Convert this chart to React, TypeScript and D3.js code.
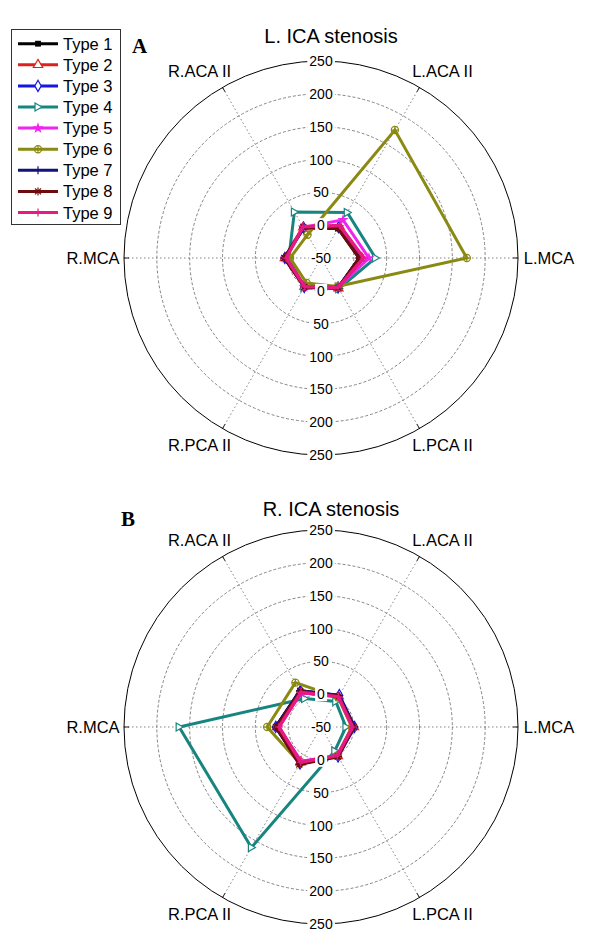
import React, { useEffect, useRef } from 'react';
import * as d3 from 'd3';

// axes of the polar plots, counter-clockwise from the right
const axisNames = ['L.MCA', 'L.ACA II', 'R.ACA II', 'R.MCA', 'R.PCA II', 'L.PCA II'];
const axisAngles = [0, 60, 120, 180, 240, 300];
const ringTicks = [0, 50, 100, 150, 200, 250];
const typeNames = ['Type 1', 'Type 2', 'Type 3', 'Type 4', 'Type 5', 'Type 6', 'Type 7', 'Type 8', 'Type 9'];

// L. ICA stenosis, one row per type, values in axis order
const leftIca = [
  [8, 2, 3, 5, 0, 2],
  [12, 6, 4, 5, 0, 3],
  [10, 4, 3, 5, 1, 2],
  [33, 30, 31, -1, 2, 4],
  [23, 17, 4, 4, 1, 2],
  [172, 175, -9, -3, -6, 0],
  [9, 3, 3, 6, 0, 2],
  [8, 2, 4, 6, 1, 3],
  [15, 7, 5, 3, 0, 2],
];

// R. ICA stenosis
const rightIca = [
  [0, 5, 14, 19, 13, 1],
  [0, 4, 12, 17, 12, 1],
  [1, 6, 13, 19, 14, 2],
  [-12, -5, 0, 166, 162, -8],
  [-2, 3, 10, 15, 10, 0],
  [-3, 2, 28, 32, 14, 0],
  [1, 5, 14, 19, 15, 1],
  [0, 4, 13, 18, 16, 2],
  [-2, 3, 11, 14, 12, 0],
];

const colors = ['#000000', '#e0201f', '#1515e6', '#17857f', '#f024f0', '#8a8a12', '#12127a', '#6e0c0c', '#e61a82'];
const markers = ['square', 'triangle', 'diamond', 'triright', 'star', 'circleplus', 'plus', 'asterisk', 'plus'];

const FONT = 'Liberation Sans, Arial, sans-serif';
const R = 197;

function drawMarker(g: any, kind: string, x: number, y: number, color: string) {
  const m = g.append('g').attr('transform', `translate(${x},${y})`);
  if (kind === 'square') {
    m.append('path').attr('d', d3.symbol(d3.symbolSquare, 34)()).attr('fill', color);
  } else if (kind === 'triangle') {
    m.append('path').attr('d', d3.symbol(d3.symbolTriangle, 38)()).attr('fill', '#fff').attr('stroke', color).attr('stroke-width', 1.2);
  } else if (kind === 'diamond') {
    m.append('path').attr('d', d3.symbol(d3.symbolDiamond, 36)()).attr('fill', '#fff').attr('stroke', color).attr('stroke-width', 1.2);
  } else if (kind === 'triright') {
    m.append('path').attr('d', 'M-3,-4L4,0L-3,4Z').attr('fill', '#fff').attr('stroke', color).attr('stroke-width', 1.2);
  } else if (kind === 'star') {
    m.append('path').attr('d', d3.symbol(d3.symbolStar, 40)()).attr('fill', color);
  } else if (kind === 'circleplus') {
    m.append('circle').attr('r', 3.6).attr('fill', 'none').attr('stroke', color).attr('stroke-width', 1.2);
    m.append('path').attr('d', 'M-3.6,0H3.6M0,-3.6V3.6').attr('stroke', color).attr('stroke-width', 1.2);
  } else if (kind === 'plus') {
    m.append('path').attr('d', 'M-4,0H4M0,-4V4').attr('stroke', color).attr('stroke-width', 1.2);
  } else if (kind === 'asterisk') {
    m.append('path').attr('d', 'M-4,0H4M0,-4V4M-3,-3L3,3M-3,3L3,-3').attr('stroke', color).attr('stroke-width', 1.2);
  }
}

function drawPolar(svg: any, cx: number, cy: number, title: string, letter: string, letterX: number, titleY: number, data: number[][]) {
  const g = svg.append('g');
  const r = d3.scaleLinear().domain([-50, 250]).range([0, R]);
  const rad = (deg: number) => (deg * Math.PI) / 180;

  // dashed rings
  g.selectAll('circle.ring')
    .data(ringTicks.slice(0, -1))
    .enter()
    .append('circle')
    .attr('cx', cx)
    .attr('cy', cy)
    .attr('r', (d: number) => r(d))
    .attr('fill', 'none')
    .attr('stroke', '#777')
    .attr('stroke-width', 0.9)
    .attr('stroke-dasharray', '3,2');

  // spokes
  [0, 60, 120].forEach((a) => {
    const dx = R * Math.cos(rad(a));
    const dy = R * Math.sin(rad(a));
    g.append('line')
      .attr('x1', cx - dx).attr('y1', cy + dy)
      .attr('x2', cx + dx).attr('y2', cy - dy)
      .attr('stroke', '#777')
      .attr('stroke-width', 0.9)
      .attr('stroke-dasharray', '1.5,2.5');
  });
  axisAngles.forEach((a) => {
    const c = Math.cos(rad(a));
    const s = Math.sin(rad(a));
    g.append('line')
      .attr('x1', cx + (R - 5) * c).attr('y1', cy - (R - 5) * s)
      .attr('x2', cx + R * c).attr('y2', cy - R * s)
      .attr('stroke', '#000').attr('stroke-width', 0.9);
  });

  // outer circle
  g.append('circle')
    .attr('cx', cx).attr('cy', cy).attr('r', r(250))
    .attr('fill', 'none').attr('stroke', '#000').attr('stroke-width', 1);

  // data polygons
  const line = d3.lineRadial<number>()
    .angle((_d: number, i: number) => rad(90 - axisAngles[i]))
    .radius((d: number) => r(d))
    .curve(d3.curveLinearClosed);

  data.forEach((vals, k) => {
    g.append('path')
      .datum(vals)
      .attr('transform', `translate(${cx},${cy})`)
      .attr('fill', 'none')
      .attr('stroke', colors[k])
      .attr('stroke-width', k === 8 ? 3.5 : 3)
      .attr('stroke-linejoin', 'miter')
      .attr('d', line);
    vals.forEach((v, i) => {
      const a = rad(axisAngles[i]);
      drawMarker(g, markers[k], cx + r(v) * Math.cos(a), cy - r(v) * Math.sin(a), colors[k]);
    });
  });

  // ring labels along the vertical, with white backgrounds
  const labels: { v: string; y: number }[] = [{ v: '-50', y: cy }];
  ringTicks.forEach((t) => {
    labels.push({ v: String(t), y: cy - r(t) });
    labels.push({ v: String(t), y: cy + r(t) });
  });
  labels.forEach((l) => {
    const t = g.append('text')
      .attr('x', cx)
      .attr('y', l.y)
      .attr('text-anchor', 'middle')
      .attr('dominant-baseline', 'central')
      .attr('font-family', FONT)
      .attr('font-size', 14)
      .text(l.v);
    const bb = t.node().getBBox();
    g.insert('rect', () => t.node())
      .attr('x', bb.x - 2).attr('y', bb.y + 1)
      .attr('width', bb.width + 4).attr('height', bb.height - 2)
      .attr('fill', '#fff');
  });

  // axis names
  axisAngles.forEach((a, i) => {
    const adj = a % 180 === 0 ? a : (a < 90 || (a > 180 && a < 270)) ? a - 3 : a + 3;
    const lr = a % 180 === 0 ? 228 : 223;
    g.append('text')
      .attr('x', cx + lr * Math.cos(rad(adj)))
      .attr('y', cy - lr * Math.sin(rad(adj)))
      .attr('text-anchor', 'middle')
      .attr('dominant-baseline', 'central')
      .attr('font-family', FONT)
      .attr('font-size', 16.5)
      .text(axisNames[i]);
  });

  g.append('text')
    .attr('x', cx + 10).attr('y', titleY)
    .attr('text-anchor', 'middle')
    .attr('font-family', FONT)
    .attr('font-size', 20)
    .text(title);

  g.append('text')
    .attr('x', letterX).attr('y', titleY + 10)
    .attr('font-family', 'Liberation Serif, Times New Roman, serif')
    .attr('font-weight', 'bold')
    .attr('font-size', 21)
    .text(letter);
}

const App: React.FC = () => {
  const svgRef = useRef<SVGSVGElement>(null);

  useEffect(() => {
    if (!svgRef.current) return;
    const svg = d3.select(svgRef.current);
    svg.selectAll('*').remove();

    svg.append('rect').attr('width', 600).attr('height', 952).attr('fill', '#fff');

    drawPolar(svg, 321, 258, 'L. ICA stenosis', 'A', 132, 43, leftIca);
    drawPolar(svg, 321, 727, 'R. ICA stenosis', 'B', 121, 516, rightIca);

    // legend
    const lg = svg.append('g');
    lg.append('rect')
      .attr('x', 11.5).attr('y', 29.5).attr('width', 109).attr('height', 195)
      .attr('fill', '#fff').attr('stroke', '#333').attr('stroke-width', 1);
    typeNames.forEach((name, k) => {
      const y = 43.7 + k * 21.1;
      lg.append('line')
        .attr('x1', 18).attr('x2', 58).attr('y1', y).attr('y2', y)
        .attr('stroke', colors[k]).attr('stroke-width', 3);
      drawMarker(lg, markers[k], 38, y, colors[k]);
      lg.append('text')
        .attr('x', 63).attr('y', y)
        .attr('dominant-baseline', 'central')
        .attr('font-family', FONT)
        .attr('font-size', 16.5)
        .text(name);
    });
  }, []);

  return (
    <svg ref={svgRef} width={600} height={952} style={{ position: 'absolute', left: 0, top: 0 }}></svg>
  );
};

export default App;
